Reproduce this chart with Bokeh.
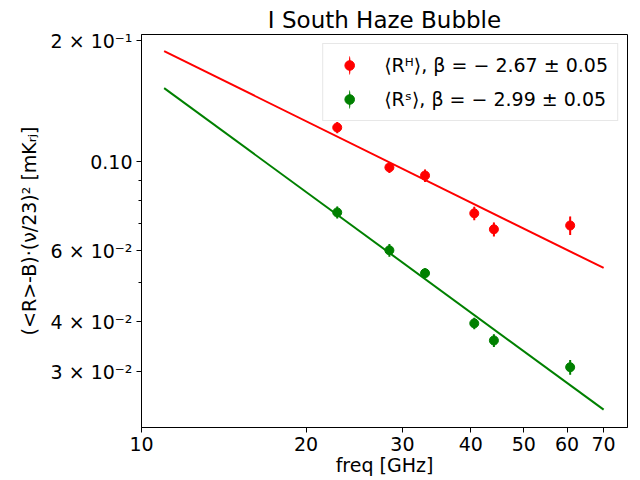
import numpy as np
from bokeh.plotting import figure
from bokeh.models import ColumnDataSource, Range1d, FixedTicker, Legend, LegendItem
from bokeh.embed import file_html
from bokeh.resources import INLINE

# ---- data ----
freq = [22.8, 28.4, 33.0, 40.6, 44.1, 60.8]
haze = [0.1217, 0.0968, 0.0924, 0.0744, 0.0679, 0.0694]
haze_err = [0.0039, 0.0031, 0.0033, 0.0029, 0.0027, 0.0037]
sync = [0.0748, 0.0602, 0.0528, 0.0396, 0.0359, 0.0308]
sync_err = [0.0026, 0.0022, 0.0015, 0.0013, 0.0013, 0.0013]

fit_freq = [11.0, 70.0]
haze_fit = [0.1885, 0.0544]
sync_fit = [0.1525, 0.02415]

haze_label = "⟨Rᴴ⟩, β = − 2.67 ± 0.05"
sync_label = "⟨Rˢ⟩, β = − 2.99 ± 0.05"

title_text = "I South Haze Bubble"
x_label = "freq [GHz]"
y_label = "(<R>-B)·(ν/23)² [mKᵣⱼ]"

x_ticks = [10, 20, 30, 40, 50, 60, 70]
x_tick_labels = ["10", "20", "30", "40", "50", "60", "70"]
y_ticks = [0.03, 0.04, 0.06, 0.1, 0.2]
y_tick_labels = ["3 × 10⁻²", "4 × 10⁻²", "6 × 10⁻²", "0.10", "2 × 10⁻¹"]
y_minor_ticks = [0.05, 0.07, 0.08, 0.09]

x_lim = (10.0, 77.4)
y_lim = (0.0218, 0.2074)

RED = "#ff0000"
GREEN = "#008000"
FONT = "DejaVu Sans"

# ---- figure ----
p = figure(width=640, height=480, x_axis_type="log", y_axis_type="log",
           x_range=Range1d(*x_lim), y_range=Range1d(*y_lim),
           output_backend="svg", toolbar_location=None,
           min_border_left=141, min_border_right=13,
           min_border_top=34, min_border_bottom=53)

p.title.text = title_text
p.title.text_font = FONT
p.title.text_font_size = "23px"
p.title.text_font_style = "normal"
p.title.align = "center"
p.title.standoff = 3
p.title.text_color = "black"

p.background_fill_color = "white"
p.border_fill_color = "white"
p.outline_line_color = "black"
p.outline_line_width = 1
p.outline_line_alpha = 1.0
p.xgrid.visible = False
p.ygrid.visible = False

for ax in (p.xaxis[0], p.yaxis[0]):
    ax.major_label_text_font = FONT
    ax.major_label_text_font_size = "19px"
    ax.major_label_text_color = "black"
    ax.axis_label_text_font = FONT
    ax.axis_label_text_font_size = "19px"
    ax.axis_label_text_font_style = "normal"
    ax.axis_label_text_color = "black"
    ax.axis_line_color = "black"
    ax.major_tick_line_color = "black"
    ax.minor_tick_line_color = "black"
    ax.major_tick_in = 0
    ax.major_tick_out = 5
    ax.minor_tick_in = 0
    ax.minor_tick_out = 3
    ax.major_label_standoff = 4

p.xaxis.axis_label_standoff = 0
p.yaxis.axis_label_standoff = 8

p.xaxis.ticker = FixedTicker(ticks=x_ticks, minor_ticks=[])
p.xaxis.major_label_overrides = {float(t): s for t, s in zip(x_ticks, x_tick_labels)}
p.yaxis.ticker = FixedTicker(ticks=y_ticks, minor_ticks=y_minor_ticks)
p.yaxis.major_label_overrides = {float(t): s for t, s in zip(y_ticks, y_tick_labels)}
p.xaxis.axis_label = x_label
p.yaxis.axis_label = y_label

# ---- glyphs ----
p.line(fit_freq, haze_fit, line_color=RED, line_width=2)
p.line(fit_freq, sync_fit, line_color=GREEN, line_width=2)

items = []
for vals, errs, col, lab in ((haze, haze_err, RED, haze_label),
                             (sync, sync_err, GREEN, sync_label)):
    v = np.array(vals)
    e = np.array(errs)
    src = ColumnDataSource(dict(x=freq, y=vals, lo=list(v - e), hi=list(v + e),
                                h=list(2 * e)))
    p.segment(x0="x", y0="lo", x1="x", y1="hi", source=src,
              line_color=col, line_width=2)
    # thin ellipse hidden under the error bar: gives the vertical bar in the legend
    ell = p.ellipse(x="x", y="y", width=1, height="h", width_units="screen",
                    height_units="data", source=src, fill_color=col,
                    line_color=None)
    dots = p.scatter(x="x", y="y", source=src, size=9, marker="circle",
                     fill_color=col, line_color=col)
    items.append(LegendItem(label=lab, renderers=[ell, dots]))

legend = Legend(items=items, location="top_right")
legend.label_text_font = FONT
legend.label_text_font_size = "19px"
legend.label_text_color = "black"
legend.glyph_width = 34
legend.glyph_height = 24
legend.label_height = 24
legend.label_standoff = 18
legend.spacing = 10
legend.padding = 9
legend.margin = 9
legend.background_fill_color = "white"
legend.background_fill_alpha = 0.8
legend.border_line_color = "#d0d0d0"
legend.border_line_width = 1
p.add_layout(legend)

open("out.html", "w").write(file_html(p, INLINE))
